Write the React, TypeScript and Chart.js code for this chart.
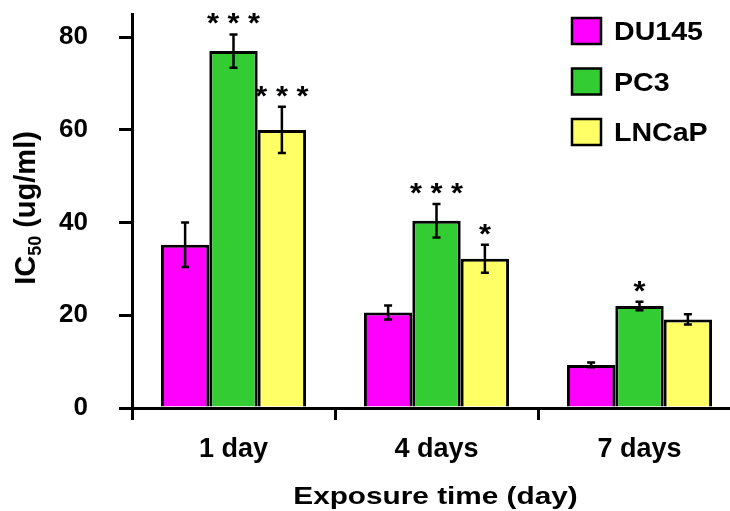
import { useEffect, useRef } from 'react';
import { Chart, registerables } from 'chart.js';

Chart.register(...registerables);

const categories = ['1 day', '4 days', '7 days'];
const seriesNames = ['DU145', 'PC3', 'LNCaP'];
const du145 = [35.2, 20.6, 9.3];
const pc3 = [77.0, 40.4, 22.0];
const lncap = [60.0, 32.2, 19.1];
const du145Err = [4.8, 1.5, 0.5];
const pc3Err = [3.6, 3.6, 0.9];
const lncapErr = [5.0, 3.0, 1.1];
const du145Sig = ['', '', ''];
const pc3Sig = ['* * *', '* * *', '*'];
const lncapSig = ['* * *', '*', ''];
const yTicks = [0, 20, 40, 60, 80];
const seriesColors = ['#FF00FF', '#33CC33', '#FFFF66'];
const xTitle = 'Exposure time (day)';

const FONT = '"Liberation Sans", Arial, sans-serif';

const errors = [du145Err, pc3Err, lncapErr];
const sigs = [du145Sig, pc3Sig, lncapSig];

const errorBarPlugin = {
  id: 'errorBars',
  afterDatasetsDraw(chart: any) {
    const ctx = chart.ctx;
    const yScale = chart.scales.y;
    ctx.save();
    ctx.strokeStyle = '#000';
    ctx.lineWidth = 2.5;
    chart.data.datasets.forEach((ds: any, i: number) => {
      const meta = chart.getDatasetMeta(i);
      meta.data.forEach((el: any, j: number) => {
        const v = ds.data[j];
        const e = errors[i][j];
        const x = el.x;
        const yT = yScale.getPixelForValue(v + e);
        const yB = yScale.getPixelForValue(v - e);
        ctx.beginPath();
        ctx.moveTo(x, yT);
        ctx.lineTo(x, yB);
        ctx.moveTo(x - 4, yT);
        ctx.lineTo(x + 4, yT);
        ctx.moveTo(x - 4, yB);
        ctx.lineTo(x + 4, yB);
        ctx.stroke();
        const s = sigs[i][j];
        if (s) {
          ctx.save();
          ctx.fillStyle = '#000';
          ctx.font = `bold 28px ${FONT}`;
          ctx.textAlign = 'center';
          ctx.textBaseline = 'alphabetic';
          ctx.translate(x, yT - 2);
          ctx.scale(1.1, 1);
          ctx.fillText(s, 0, 0);
          ctx.restore();
        }
      });
    });
    ctx.restore();
  },
};

const decorPlugin = {
  id: 'decor',
  afterDraw(chart: any) {
    const ctx = chart.ctx;
    const area = chart.chartArea;
    ctx.save();
    // legend
    const lx = area.right - 169;
    chart.data.datasets.forEach((ds: any, i: number) => {
      const y = area.top + 4 + i * 50.5;
      ctx.fillStyle = ds.backgroundColor;
      ctx.fillRect(lx, y, 29, 26);
      ctx.strokeStyle = '#000';
      ctx.lineWidth = 2.5;
      ctx.strokeRect(lx, y, 29, 26);
      ctx.save();
      ctx.fillStyle = '#000';
      ctx.font = `bold 25.5px ${FONT}`;
      ctx.textAlign = 'left';
      ctx.textBaseline = 'alphabetic';
      ctx.translate(lx + 42, y + 22);
      ctx.scale(1.12, 1);
      ctx.fillText(ds.label, 0, 0);
      ctx.restore();
    });
    // x axis title
    ctx.save();
    ctx.fillStyle = '#000';
    ctx.font = `bold 24px ${FONT}`;
    ctx.textAlign = 'center';
    ctx.textBaseline = 'alphabetic';
    ctx.translate((area.left + area.right) / 2 - 1, chart.height - 7.5);
    ctx.scale(1.24, 1);
    ctx.fillText(xTitle, 0, 0);
    ctx.restore();
    // y axis title with subscript
    const cy = (area.top + area.bottom) / 2 - 3;
    ctx.translate(27, cy);
    ctx.rotate(-Math.PI / 2);
    const big = `bold 29px ${FONT}`;
    const small = `bold 18px ${FONT}`;
    ctx.font = big;
    const w1 = ctx.measureText('IC').width;
    const w3 = ctx.measureText(' (ug/ml)').width;
    ctx.font = small;
    const w2 = ctx.measureText('50').width;
    const total = w1 + w2 + w3;
    let x = -total / 2;
    ctx.textAlign = 'left';
    ctx.textBaseline = 'middle';
    ctx.fillStyle = '#000';
    ctx.font = big;
    ctx.fillText('IC', x, 0);
    x += w1;
    ctx.font = small;
    ctx.fillText('50', x, 9);
    x += w2;
    ctx.font = big;
    ctx.fillText(' (ug/ml)', x, 0);
    ctx.restore();
  },
};

export default function App() {
  const ref = useRef<HTMLCanvasElement>(null);
  useEffect(() => {
    if (!ref.current) return;
    const seriesData = [du145, pc3, lncap];
    const chart = new Chart(ref.current, {
      type: 'bar',
      data: {
        labels: categories,
        datasets: seriesNames.map((name, i) => ({
          label: name,
          data: seriesData[i],
          backgroundColor: seriesColors[i],
          borderColor: '#000',
          borderWidth: 3,
          borderSkipped: 'bottom',
          categoryPercentage: 0.715,
          barPercentage: 1.0,
        })),
      },
      options: {
        animation: false,
        responsive: true,
        maintainAspectRatio: false,
        layout: { padding: { top: 14, right: 9, left: 0, bottom: 0 } },
        plugins: { legend: { display: false }, tooltip: { enabled: false } },
        scales: {
          x: {
            offset: true,
            grid: {
              offset: true,
              drawOnChartArea: false,
              drawTicks: true,
              tickLength: 12,
              color: '#000',
              lineWidth: 3,
            },
            border: { display: true, color: '#000', width: 3 },
            ticks: {
              color: '#000',
              font: { size: 27, weight: 'bold', family: FONT },
              padding: 13,
            },
            afterFit: (s: any) => {
              s.height = 103;
              s.paddingLeft = 0;
              s.paddingRight = 0;
            },
          },
          y: {
            min: 0,
            max: 85,
            grid: {
              drawOnChartArea: false,
              drawTicks: true,
              tickLength: 13,
              color: '#000',
              lineWidth: 3,
            },
            border: { display: true, color: '#000', width: 3 },
            ticks: {
              color: '#000',
              font: { size: 26, weight: 'bold', family: FONT },
              padding: 31,
            },
            afterBuildTicks: (s: any) => {
              s.ticks = yTicks.map((v) => ({ value: v }));
            },
            afterFit: (s: any) => {
              s.width = 132;
              s.paddingTop = 0;
              s.paddingBottom = 0;
            },
          },
        },
      },
      plugins: [errorBarPlugin, decorPlugin],
    } as any);
    return () => chart.destroy();
  }, []);
  return (
    <div style={{ position: 'fixed', left: 0, top: 0, width: 730, height: 511, overflow: 'hidden', background: '#fff' }}>
      <div style={{ position: 'relative', width: 750, height: 511 }}>
        <canvas ref={ref} />
      </div>
    </div>
  );
}
